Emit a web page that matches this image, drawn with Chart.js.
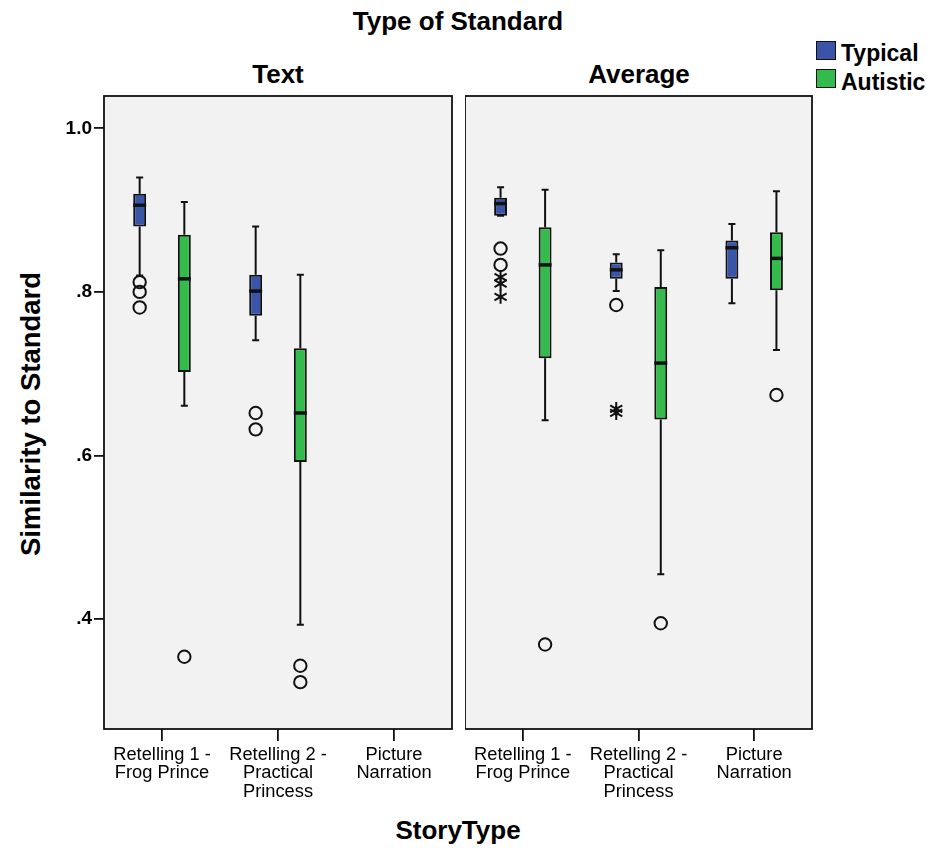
<!DOCTYPE html>
<html>
<head>
<meta charset="utf-8">
<script src="https://cdn.jsdelivr.net/npm/chart.js@4"></script>
<style>
  body { margin: 0; background: #fff; }
  #wrap { position: relative; width: 927px; height: 848px; font-family: 'Liberation Sans', Arial, sans-serif; color: #000; }
  canvas { position: absolute; top: 0; }
  .lbl { position: absolute; font-weight: bold; white-space: nowrap; transform: translate(-50%, -50%); }
  .key { position: absolute; width: 18px; height: 17px; border: 1.5px solid #111; }
  .keytxt { position: absolute; font-weight: bold; font-size: 23px; transform: translateY(-50%); }
</style>
</head>
<body>
<div id="wrap">
  <div class="lbl" style="left:458px; top:21px; font-size:26px;">Type of Standard</div>
  <div class="lbl" style="left:278px; top:74px; font-size:26px;">Text</div>
  <div class="lbl" style="left:639px; top:74px; font-size:26px;">Average</div>
  <div class="key" style="left:816px; top:41px; background:#3a55a7;"></div>
  <div class="keytxt" style="left:841px; top:53px;">Typical</div>
  <div class="key" style="left:816px; top:69px; background:#33bb4c;"></div>
  <div class="keytxt" style="left:841px; top:82px;">Autistic</div>
  <div class="lbl" style="left:458px; top:830px; font-size:26px;">StoryType</div>
  <div class="lbl" style="left:31px; top:414px; font-size:27.5px; transform: translate(-50%, -50%) rotate(-90deg);">Similarity to Standard</div>
  <canvas id="textPanel" width="455" height="848" style="left:0px;"></canvas>
  <canvas id="avgPanel" width="350" height="848" style="left:465px;"></canvas>
</div>
<script>
(() => {
  'use strict'

  const categories = [
    ['Retelling 1 -', 'Frog Prince'],
    ['Retelling 2 -', 'Practical', 'Princess'],
    ['Picture', 'Narration']
  ]
  const groups = ['Typical', 'Autistic']
  const yTicks = [0.4, 0.6, 0.8, 1.0]
  const yTickLabels = ['.4', '.6', '.8', '1.0']

  // [min, q1, median, q3, max] per story type
  const textTypical = [
    [0.820, 0.880, 0.906, 0.920, 0.940],
    [0.741, 0.771, 0.801, 0.821, 0.880],
    null
  ]
  const textAutistic = [
    [0.661, 0.702, 0.816, 0.870, 0.910],
    [0.393, 0.592, 0.652, 0.731, 0.821],
    null
  ]
  const avgTypical = [
    [0.893, 0.893, 0.908, 0.915, 0.928],
    [0.801, 0.816, 0.827, 0.836, 0.846],
    [0.786, 0.816, 0.854, 0.863, 0.883]
  ]
  const avgAutistic = [
    [0.643, 0.719, 0.833, 0.879, 0.925],
    [0.455, 0.644, 0.713, 0.806, 0.851],
    [0.729, 0.802, 0.841, 0.873, 0.923]
  ]

  // outliers (circles) and extremes (stars)
  const textTypicalOut = [[0.812, 0.800, 0.781], [0.652, 0.632], []]
  const textAutisticOut = [[0.354], [0.343, 0.323], []]
  const avgTypicalOut = [[0.853, 0.833], [0.784], []]
  const avgTypicalExt = [[0.818, 0.810, 0.794], [0.657, 0.652], []]
  const avgAutisticOut = [[0.369], [0.395], [0.674]]

  const colors = ['#3a55a7', '#33bb4c']
  const ink = '#111'

  const Y_MIN = 0.2657
  const Y_MAX = 1.0395

  const drawPoint = (ctx, style, x, y) => {
    ctx.beginPath()
    if (style === 'circle') {
      ctx.arc(x, y, 6.2, 0, Math.PI * 2)
    } else {
      const r = 7
      for (let k = 0; k < 3; k++) {
        const a = k * Math.PI / 3
        ctx.moveTo(x - r * Math.sin(a), y - r * Math.cos(a))
        ctx.lineTo(x + r * Math.sin(a), y + r * Math.cos(a))
      }
    }
    ctx.stroke()
  }

  const boxParts = {
    id: 'boxParts',
    beforeDraw (chart) {
      const { ctx, chartArea: a } = chart
      ctx.save()
      ctx.fillStyle = '#f2f2f2'
      ctx.fillRect(a.left, a.top, a.right - a.left, a.bottom - a.top)
      ctx.restore()
    },
    afterDatasetsDraw (chart) {
      const { ctx, chartArea: a } = chart
      const ys = chart.scales.y
      ctx.save()
      ctx.strokeStyle = ink
      chart.data.datasets.forEach((ds, i) => {
        const meta = chart.getDatasetMeta(i)
        ds.stats.forEach((s, j) => {
          if (!s) return
          const bar = meta.data[j]
          const x = bar.x
          const half = bar.width / 2
          const [lo, q1, med, q3, hi] = s.map(v => ys.getPixelForValue(v))
          // whiskers
          ctx.lineWidth = 2
          ctx.beginPath()
          ctx.moveTo(x, q3); ctx.lineTo(x, hi)
          ctx.moveTo(x, q1); ctx.lineTo(x, lo)
          ctx.moveTo(x - 3.5, hi); ctx.lineTo(x + 3.5, hi)
          ctx.moveTo(x - 3.5, lo); ctx.lineTo(x + 3.5, lo)
          ctx.stroke()
          // median
          ctx.lineWidth = 3.5
          ctx.beginPath()
          ctx.moveTo(x - half, med); ctx.lineTo(x + half, med)
          ctx.stroke()
          // outliers
          ctx.lineWidth = 2
          ;(ds.outliers[j] || []).forEach(v => drawPoint(ctx, 'circle', x, ys.getPixelForValue(v)))
          ;(ds.extremes[j] || []).forEach(v => drawPoint(ctx, 'star', x, ys.getPixelForValue(v)))
        })
      })
      // panel frame
      ctx.lineWidth = 1.8
      ctx.strokeRect(a.left, a.top, a.right - a.left, a.bottom - a.top)
      ctx.restore()
    }
  }

  const makeSet = (label, stats, color, outliers, extremes) => ({
    label,
    data: stats.map(s => (s ? [s[1], s[3]] : null)),
    stats,
    outliers,
    extremes: extremes || [[], [], []],
    backgroundColor: color,
    borderColor: ink,
    borderWidth: 2,
    borderSkipped: false,
    categoryPercentage: 0.77,
    barPercentage: 0.29
  })

  const makeChart = (id, sets, showY, padRight) => new Chart(document.getElementById(id), {
    type: 'bar',
    data: { labels: categories, datasets: sets },
    options: {
      responsive: false,
      animation: false,
      layout: { padding: { top: 96, right: padRight, left: 0, bottom: 0 } },
      plugins: { legend: { display: false }, tooltip: { enabled: false } },
      scales: {
        x: {
          afterFit: (scale) => { scale.height = 119 },
          grid: { offset: false, drawOnChartArea: false, tickLength: 12, color: ink, lineWidth: 1.8 },
          border: { display: false },
          ticks: {
            color: '#000',
            padding: 5,
            maxRotation: 0,
            autoSkip: false,
            font: { family: "'Liberation Sans', Arial, sans-serif", size: 18.3, lineHeight: 1.0 }
          }
        },
        y: {
          display: showY,
          min: Y_MIN,
          max: Y_MAX,
          afterFit: (scale) => { scale.width = showY ? 104 : 0 },
          afterBuildTicks: (scale) => { scale.ticks = yTicks.map(v => ({ value: v })) },
          grid: { drawOnChartArea: false, tickLength: 10, color: ink, lineWidth: 1.8 },
          border: { display: false },
          ticks: {
            color: '#000',
            padding: 2,
            callback: (v) => yTickLabels[yTicks.findIndex(t => Math.abs(t - v) < 1e-6)],
            font: { family: "'Liberation Sans', Arial, sans-serif", size: 19, weight: 'bold' }
          }
        }
      }
    },
    plugins: [boxParts]
  })

  makeChart('textPanel', [
    makeSet(groups[0], textTypical, colors[0], textTypicalOut),
    makeSet(groups[1], textAutistic, colors[1], textAutisticOut)
  ], true, 3)

  makeChart('avgPanel', [
    makeSet(groups[0], avgTypical, colors[0], avgTypicalOut, avgTypicalExt),
    makeSet(groups[1], avgAutistic, colors[1], avgAutisticOut)
  ], false, 3)
})()
</script>
</body>
</html>
